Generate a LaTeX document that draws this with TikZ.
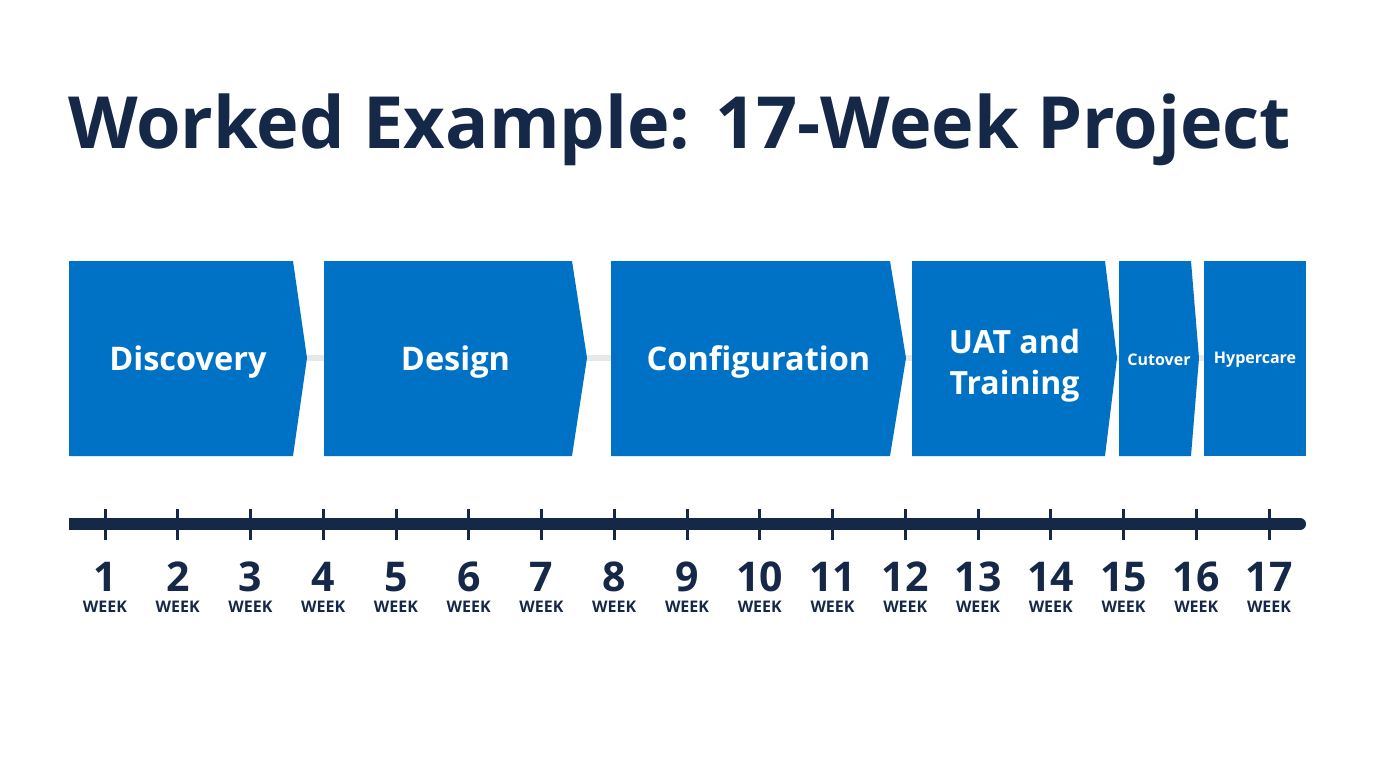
\documentclass[tikz,border=0pt]{standalone}
\usepackage{fontspec}
\setmainfont{Open Sans}
\definecolor{phaseblue}{RGB}{0,114,198}
\definecolor{navy}{RGB}{22,40,72}
\definecolor{linkgray}{RGB}{232,232,232}
\begin{document}
\begin{tikzpicture}[x=1pt,y=-1pt,
  phase/.style={fill=phaseblue,draw=none},
  phaselabel/.style={text=white,font=\bfseries\fontsize{32.5}{40}\selectfont,align=center,inner sep=0pt},
  smalllabel/.style={text=white,font=\bfseries\fontsize{16}{18}\selectfont,align=center,inner sep=0pt},
  weeknum/.style={text=navy,font=\bfseries\fontsize{41}{44}\selectfont,inner sep=0pt},
  weekword/.style={text=navy,font=\bfseries\fontsize{16}{18}\selectfont,inner sep=0pt},
  tickmark/.style={draw=navy,line width=3pt}]
\useasboundingbox (0,0) rectangle (1376,768);
\fill[white] (0,0) rectangle (1376,768);
% title
\node[anchor=base west,inner sep=0pt,text=navy,font=\bfseries\fontsize{72}{86}\selectfont] (title) at (68,148) {Worked Example: 17-Week Project};
% faint link behind phases
\coordinate (linkA) at (100,358);
\coordinate (linkB) at (1290,358);
\draw[linkgray,line width=6pt] (linkA) -- (linkB);
% phases: left, right, tip
\foreach \l/\r/\t/\n in {69/293/307/disc,324/572/587/desi,611/890/906/conf,912/1105/1117/uat,1119/1191/1199/cut}{
  \fill[phase] (\l,261) -- (\r,261) -- (\t,358) -- (\r,456) -- (\l,456) -- cycle;
  \coordinate (\n) at ({(\l+\t)/2},362);
}
\fill[phase] (1204,261) rectangle (1306,456);
\coordinate (hyp) at (1255,362);
\node[phaselabel] (ldisc) at (disc) {Discovery};
\node[phaselabel] (ldesi) at (desi) {Design};
\node[phaselabel] (lconf) at (conf) {Configuration};
\node[phaselabel,font=\bfseries\fontsize{32}{41}\selectfont] (luat) at ([yshift=-4]uat) {UAT and\\Training};
\node[smalllabel] (lcut) at ([yshift=2]cut) {Cutover};
\node[smalllabel] (lhyp) at ([yshift=2]hyp) {Hypercare};
% timeline
\coordinate (tlA) at (69,524);
\coordinate (tlB) at (1300,524);
\draw[navy,line width=12pt] (tlA) -- (tlB);
\fill[navy] (tlB) circle (6);
\foreach \i in {1,...,17}{
  \pgfmathsetmacro{\xx}{105+(\i-1)*72.75}
  \draw[tickmark] (\xx,509) -- (\xx,540);
  \node[weeknum] (n\i) at (\xx,577) {\i};
  \node[weekword] (w\i) at (\xx,607) {WEEK};
}
\end{tikzpicture}
\end{document}
